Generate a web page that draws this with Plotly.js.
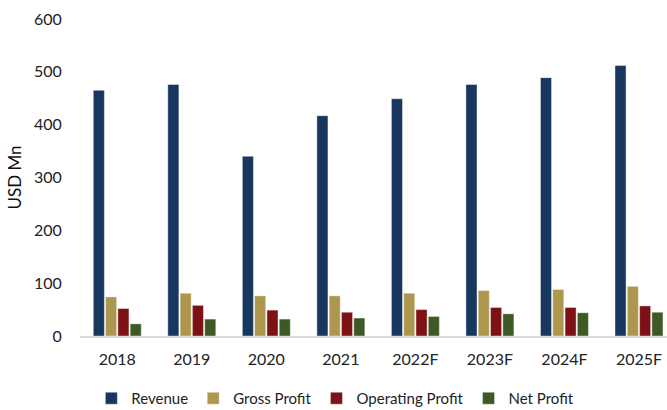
<!DOCTYPE html>
<html><head><meta charset="utf-8">
<script src="https://cdn.plot.ly/plotly-3.0.1.min.js"></script>
<style>html,body{margin:0;padding:0;background:#fff}#chart{width:667px;height:410px}</style>
</head><body><div id="chart"></div>
<script>
const categories = ['2018','2019','2020','2021','2022F','2023F','2024F','2025F'];
const revenue = [465, 476, 340, 417, 449, 476, 489, 512];
const grossProfit = [74, 81, 76, 76, 81, 86, 88, 94];
const operatingProfit = [52, 58, 49, 45, 50, 54, 54, 57];
const netProfit = [23, 32, 32, 34, 37, 42, 44, 45];
const seriesNames = ['Revenue','Gross Profit','Operating Profit','Net Profit'];
const colors = ['#17375E','#AD974E','#7D1216','#3D5A25'];
const values = [revenue, grossProfit, operatingProfit, netProfit];

const traces = values.map((v,i)=>({
  type:'bar', x:categories, y:v, name:seriesNames[i],
  marker:{color:colors[i], line:{color:'rgba(255,255,255,0.5)', width:0.8}},
  hoverinfo:'x+y+name'
}));
const font = 'Lato, "Open Sans", sans-serif';
const layout = {
  width:667, height:410,
  margin:{l:80, r:0, t:18.5, b:73.5, autoexpand:false},
  paper_bgcolor:'#fff', plot_bgcolor:'#fff',
  barmode:'group', bargap:0.34, bargroupgap:0.1,
  font:{family:font, size:16, color:'#222'},
  xaxis:{type:'category', range:[-0.5, 7.376], showgrid:false, showline:true,
    linecolor:'#d9d9d9', linewidth:1.5, ticks:'outside', ticklen:8, tickcolor:'rgba(0,0,0,0)',
    tickfont:{family:font, size:16, color:'#222'}, zeroline:false},
  yaxis:{range:[0,600], dtick:100, showgrid:false, showline:false, zeroline:false,
    ticks:'outside', ticklen:14, tickcolor:'rgba(0,0,0,0)',
    tickfont:{family:font, size:16, color:'#222'},
    title:{text:'USD Mn', font:{family:font, size:17, color:'#111'}, standoff:8}},
  showlegend:true,
  legend:{orientation:'h', x:0.435, xanchor:'center', y:-0.145, yanchor:'top',
    bgcolor:'rgba(0,0,0,0)',
    font:{family:font, size:15, color:'#222'}, itemwidth:30, traceorder:'normal'}
};
Plotly.newPlot('chart', traces, layout, {displayModeBar:false, staticPlot:true});
</script></body></html>
